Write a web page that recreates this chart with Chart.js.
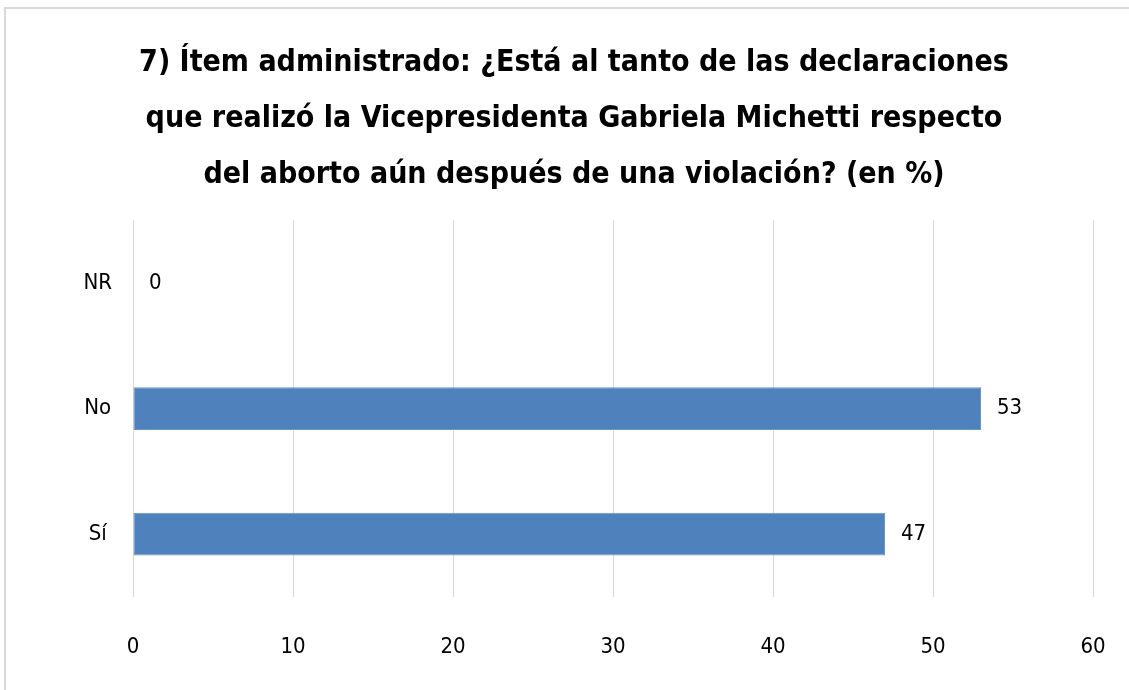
<!DOCTYPE html>
<html lang="es">
  <head>
    <meta charset="UTF-8" />
    <title>Ítem 7</title>
    <script src="https://cdn.jsdelivr.net/npm/chart.js@4.4.0/dist/chart.umd.min.js"></script>
    <style>
      html, body { margin: 0; padding: 0; background: #fff; }
      #wrap { position: relative; width: 1129px; height: 690px; overflow: hidden; }
      #frame {
        position: absolute; left: 4px; top: 7px; width: 1140px; height: 700px;
        border-left: 2px solid #d9d9d9; border-top: 2px solid #d9d9d9;
      }
      canvas { position: absolute; left: 0; top: 0; }
    </style>
  </head>
  <body>
    <div id="wrap">
      <div id="frame"></div>
      <canvas id="myChart" width="1129" height="690"></canvas>
    </div>

    <script>
      const categories = ["NR", "No", "Sí"];
      const values = [0, 53, 47];
      const xTicks = [0, 10, 20, 30, 40, 50, 60];
      const titleLines = [
        "7) Ítem administrado: ¿Está al tanto de las declaraciones",
        "que realizó la Vicepresidenta Gabriela Michetti respecto",
        "del aborto aún después de una violación? (en %)",
      ];

      const FONT = "'Liberation Sans Narrow', 'DejaVu Sans Condensed', sans-serif";

      // value labels to the right of each bar
      const barLabels = {
        id: "barLabels",
        afterDatasetsDraw(chart) {
          const ctx = chart.ctx;
          const meta = chart.getDatasetMeta(0);
          ctx.save();
          ctx.font = "22px " + FONT;
          ctx.fillStyle = "#000";
          ctx.textAlign = "left";
          ctx.textBaseline = "middle";
          meta.data.forEach((bar, i) => {
            ctx.fillText(String(values[i]), bar.x + 16, bar.y);
          });
          ctx.restore();
        },
      };

      const ctx = document.getElementById("myChart").getContext("2d");
      const myChart = new Chart(ctx, {
        type: "bar",
        data: {
          labels: categories,
          datasets: [
            {
              data: values,
              backgroundColor: "#4f81bd",
              borderColor: "#6d96c8",
              borderWidth: 1,
              borderSkipped: false,
              barPercentage: 0.34,
              categoryPercentage: 1,
            },
          ],
        },
        options: {
          indexAxis: "y",
          responsive: false,
          animation: false,
          layout: { padding: { left: 55, right: 36, top: 35, bottom: 0 } },
          plugins: {
            legend: { display: false },
            tooltip: { enabled: false },
            title: {
              display: true,
              text: titleLines,
              color: "#000",
              font: { family: FONT, size: 30, weight: "bold", lineHeight: 1.87 },
              padding: { top: 0, bottom: 17 },
            },
          },
          scales: {
            x: {
              min: 0,
              max: 60,
              afterBuildTicks: (axis) => {
                axis.ticks = xTicks.map((v) => ({ value: v }));
              },
              afterFit: (axis) => {
                axis.height = 93;
              },
              border: { display: false },
              grid: {
                color: "#d9d9d9",
                lineWidth: 1,
                drawTicks: true,
                tickLength: 34,
                tickColor: "rgba(0,0,0,0)",
              },
              ticks: {
                color: "#000",
                padding: 3,
                font: { family: FONT, size: 22 },
              },
            },
            y: {
              afterFit: (axis) => {
                axis.width = 78;
              },
              border: { display: false },
              grid: { display: false },
              ticks: {
                color: "#000",
                crossAlign: "center",
                padding: 13,
                font: { family: FONT, size: 22 },
              },
            },
          },
        },
        plugins: [barLabels],
      });
    </script>
  </body>
</html>
